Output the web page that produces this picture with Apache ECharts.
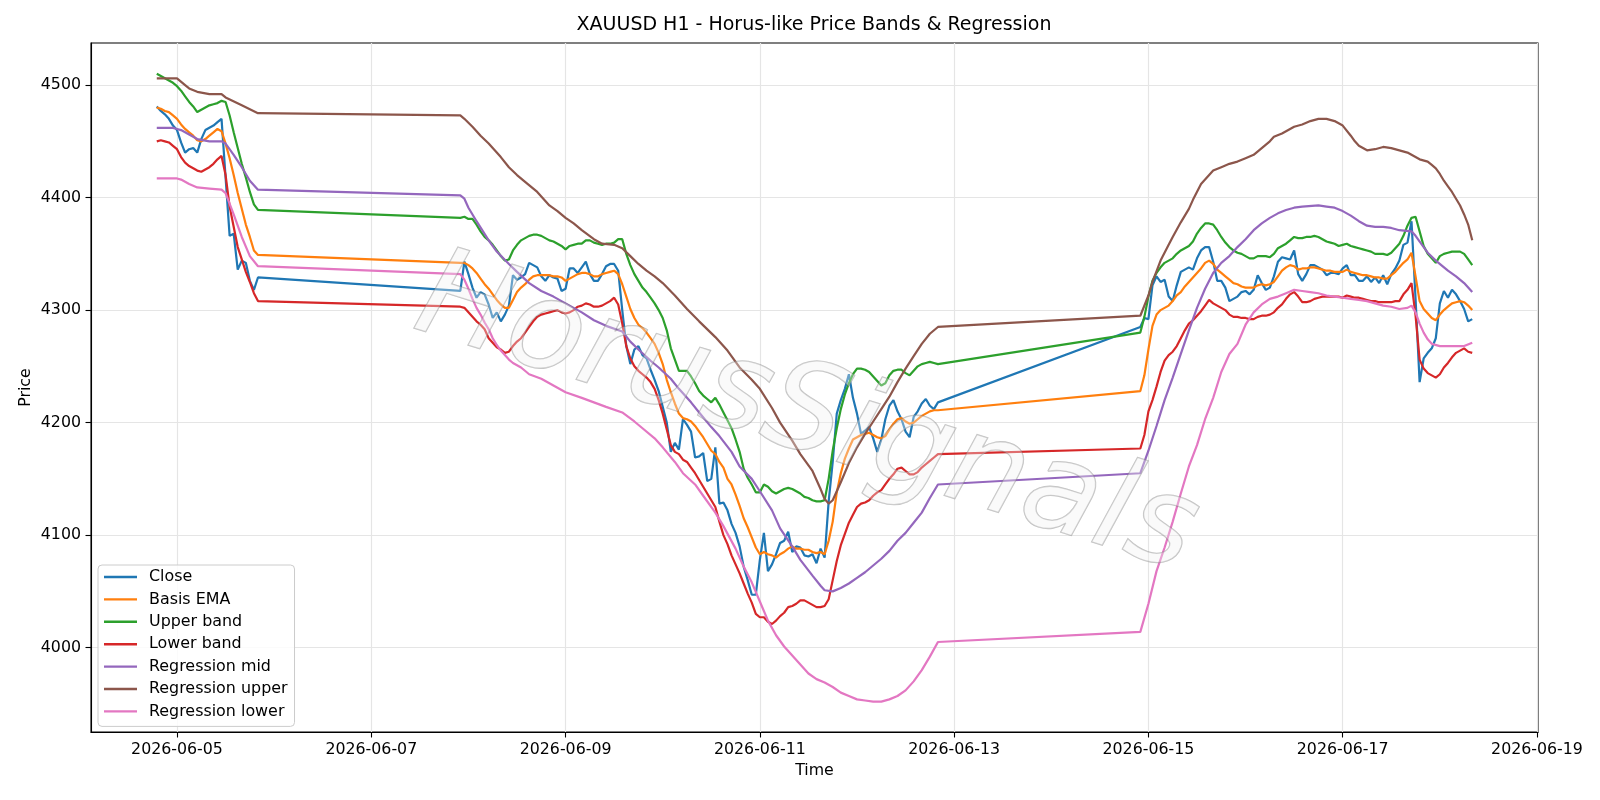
<!DOCTYPE html>
<html>
<head>
<meta charset="utf-8">
<title>XAUUSD H1 - Horus-like Price Bands &amp; Regression</title>
<script src="https://cdn.jsdelivr.net/npm/echarts@6.0.0/dist/echarts.min.js"></script>
<style>
  html, body { margin: 0; padding: 0; background: #ffffff; }
  #chart { width: 1600px; height: 800px; }
</style>
</head>
<body>
<div id="chart"></div>
<script>
// hourly bars, hour 0 = 2026-06-05 00:00; the three stretches are split by weekends
const segmentStart = [-5, 70, 238];

// Close
const closeA = [4481, 4477, 4474, 4470, 4464, 4460, 4449, 4440, 4443, 4444,
  4440, 4452, 4460, 4462, 4464, 4467, 4470, 4418, 4366, 4368,
  4336, 4344, 4342, 4326, 4318, 4329];
const closeB = [4317, 4343, 4332, 4320, 4311, 4316, 4314, 4305, 4293, 4298,
  4290, 4296, 4304, 4331, 4327, 4329, 4332, 4342, 4340, 4338,
  4330, 4326, 4331, 4329, 4328, 4317, 4319, 4337, 4337, 4333,
  4338, 4343, 4332, 4326, 4326, 4332, 4339, 4341, 4341, 4335,
  4300, 4268, 4252, 4265, 4268, 4260, 4257, 4247, 4238, 4228,
  4214, 4200, 4174, 4182, 4176, 4203, 4198, 4192, 4169, 4170,
  4173, 4148, 4150, 4178, 4128, 4129, 4122, 4110, 4102, 4090,
  4072, 4060, 4047, 4047, 4078, 4102, 4068, 4074, 4083, 4093,
  4095, 4103, 4085, 4090, 4089, 4082, 4081, 4083, 4075, 4088,
  4080, 4130, 4165, 4208, 4220, 4230, 4243, 4222, 4208, 4190,
  4193, 4196, 4186, 4174, 4185, 4203, 4215, 4220, 4210, 4203,
  4192, 4187, 4205, 4210, 4217, 4221, 4215, 4212, 4218];
const closeC = [4285, 4293, 4292, 4322, 4330, 4325, 4327, 4312, 4308, 4322,
  4334, 4336, 4338, 4336, 4346, 4353, 4356, 4356, 4343, 4326,
  4326, 4320, 4308, 4310, 4312, 4316, 4317, 4314, 4318, 4331,
  4324, 4318, 4320, 4330, 4343, 4347, 4346, 4345, 4353, 4332,
  4326, 4332, 4340, 4340, 4338, 4336, 4331, 4333, 4333, 4332,
  4337, 4340, 4331, 4331, 4326, 4326, 4330, 4325, 4329, 4324,
  4331, 4323, 4332, 4337, 4344, 4358, 4360, 4379, 4310, 4236,
  4257, 4262, 4266, 4275, 4306, 4317, 4311, 4318, 4314, 4308,
  4301, 4290, 4292];

// Basis EMA
const basisA = [4480, 4479, 4477, 4476, 4473, 4470, 4465, 4461, 4458, 4455,
  4451, 4450, 4452, 4455, 4458, 4461, 4459, 4448, 4435, 4420,
  4404, 4390, 4376, 4365, 4353, 4349];
const basisB = [4342, 4342, 4340, 4337, 4333, 4328, 4323, 4319, 4314, 4309,
  4305, 4302, 4302, 4309, 4316, 4320, 4323, 4327, 4330, 4331,
  4331, 4331, 4331, 4330, 4330, 4329, 4326, 4328, 4330, 4332,
  4333, 4333, 4332, 4330, 4330, 4332, 4333, 4334, 4335, 4332,
  4323, 4312, 4301, 4293, 4287, 4284, 4280, 4275, 4270, 4262,
  4252, 4238, 4227, 4217, 4208, 4204, 4203, 4201, 4197, 4192,
  4187, 4181, 4175, 4172, 4165, 4160, 4150, 4145, 4136, 4126,
  4115, 4107, 4098, 4089, 4083, 4085, 4083, 4082, 4080, 4083,
  4085, 4088, 4090, 4088, 4088, 4087, 4087, 4085, 4084, 4085,
  4083, 4095, 4112, 4138, 4155, 4168, 4177, 4185, 4187, 4189,
  4190, 4191, 4189, 4187, 4186, 4188, 4194, 4199, 4203, 4204,
  4201, 4199, 4200, 4203, 4206, 4208, 4210, 4211, 4211];
const basisC = [4228, 4242, 4265, 4286, 4296, 4300, 4302, 4304, 4308, 4313,
  4316, 4321, 4325, 4329, 4333, 4337, 4342, 4344, 4341, 4336,
  4333, 4330, 4327, 4324, 4323, 4321, 4320, 4320, 4320, 4322,
  4323, 4322, 4323, 4325, 4330, 4335, 4338, 4340, 4339, 4336,
  4337, 4337, 4338, 4338, 4337, 4336, 4335, 4335, 4334, 4334,
  4334, 4336, 4334, 4333, 4332, 4331, 4331, 4330, 4329, 4329,
  4328, 4328, 4331, 4334, 4338, 4342, 4345, 4351, 4330, 4308,
  4301, 4297, 4293, 4291, 4296, 4300, 4303, 4306, 4307, 4308,
  4307, 4304, 4300];

// Upper band
const upperA = [4510, 4508, 4506, 4504, 4502, 4499, 4495, 4490, 4485, 4481,
  4476, 4478, 4480, 4482, 4483, 4484, 4486, 4485, 4473, 4458,
  4444, 4430, 4418, 4405, 4394, 4389];
const upperB = [4382, 4383, 4381, 4381, 4376, 4370, 4365, 4362, 4358, 4353,
  4348, 4344, 4345, 4353, 4358, 4362, 4364, 4366, 4367, 4367,
  4366, 4364, 4362, 4361, 4359, 4357, 4354, 4357, 4358, 4359,
  4359, 4362, 4362, 4360, 4359, 4358, 4359, 4359, 4360, 4363,
  4363, 4350, 4340, 4332, 4326, 4320, 4316, 4311, 4306, 4300,
  4293, 4282, 4266, 4256, 4246, 4246, 4246, 4241, 4235, 4228,
  4224, 4221, 4218, 4222, 4216, 4209, 4202, 4195, 4185, 4174,
  4159, 4151, 4145, 4138, 4138, 4145, 4143, 4139, 4137, 4139,
  4141, 4142, 4141, 4139, 4137, 4134, 4133, 4131, 4130, 4130,
  4131, 4150, 4175, 4195, 4212, 4225, 4235, 4243, 4248, 4248,
  4247, 4245, 4241, 4237, 4233, 4235, 4242, 4246, 4247, 4247,
  4244, 4242, 4246, 4250, 4252, 4253, 4254, 4253, 4252];
const upperC = [4280, 4294, 4312, 4326, 4333, 4338, 4342, 4344, 4346, 4350,
  4353, 4355, 4357, 4361, 4368, 4373, 4377, 4377, 4376, 4371,
  4365, 4360, 4356, 4353, 4351, 4350, 4348, 4346, 4346, 4348,
  4348, 4348, 4347, 4350, 4355, 4357, 4359, 4362, 4365, 4364,
  4364, 4365, 4365, 4366, 4365, 4363, 4361, 4360, 4359, 4357,
  4358, 4359, 4357, 4356, 4355, 4354, 4353, 4352, 4350, 4350,
  4350, 4349, 4351, 4355, 4359, 4366, 4375, 4382, 4383, 4370,
  4357, 4350, 4346, 4342, 4348, 4350, 4351, 4352, 4352, 4352,
  4350, 4345, 4340];

// Lower band
const lowerA = [4450, 4451, 4450, 4449, 4446, 4443, 4436, 4431, 4428, 4426,
  4424, 4423, 4425, 4427, 4430, 4434, 4437, 4420, 4392, 4374,
  4356, 4345, 4334, 4325, 4315, 4308];
const lowerB = [4303, 4302, 4298, 4294, 4290, 4287, 4283, 4275, 4271, 4267,
  4265, 4262, 4263, 4268, 4272, 4275, 4280, 4285, 4290, 4294,
  4296, 4297, 4298, 4299, 4300, 4298, 4297, 4298, 4300, 4303,
  4304, 4306, 4305, 4303, 4303, 4304, 4306, 4308, 4311, 4305,
  4288, 4268, 4257, 4250, 4246, 4243, 4240, 4236, 4230, 4220,
  4208, 4194, 4180, 4174, 4172, 4167, 4165, 4160, 4155, 4149,
  4143, 4137, 4131, 4125, 4112, 4100, 4092, 4082, 4074, 4066,
  4057, 4048, 4040, 4030, 4027, 4027, 4023, 4021, 4024, 4028,
  4031, 4036, 4037, 4039, 4042, 4042, 4040, 4038, 4036, 4036,
  4037, 4043, 4060, 4077, 4091, 4101, 4111, 4118, 4125, 4128,
  4129, 4131, 4135, 4138, 4140, 4145, 4150, 4154, 4159, 4160,
  4157, 4154, 4154, 4156, 4160, 4163, 4166, 4169, 4172];
const lowerC = [4177, 4189, 4210, 4220, 4232, 4245, 4255, 4260, 4263, 4268,
  4275, 4282, 4288, 4291, 4295, 4299, 4304, 4309, 4306, 4304,
  4302, 4300, 4296, 4294, 4294, 4293, 4293, 4292, 4292, 4294,
  4295, 4295, 4296, 4298, 4302, 4305, 4310, 4314, 4316, 4312,
  4307, 4307, 4308, 4310, 4311, 4312, 4312, 4312, 4312, 4312,
  4311, 4313, 4312, 4311, 4311, 4310, 4309, 4308, 4308, 4307,
  4307, 4307, 4307, 4308, 4308, 4314, 4318, 4324, 4295, 4256,
  4248, 4244, 4242, 4240, 4243, 4249, 4253, 4258, 4262, 4264,
  4266, 4263, 4262];

// regression channel, read as [hour, price] where the line bends
const regMid = [[-5, 4462], [-1, 4462], [0, 4461], [1, 4460], [3, 4456], [5, 4452], [8, 4450],
  [11, 4450], [12, 4448], [14, 4438], [16, 4427], [18, 4415], [20, 4407],
  [70, 4402], [71, 4399], [72, 4391], [74, 4379], [77, 4362], [79, 4352], [82, 4341], [84, 4334],
  [87, 4324], [90, 4317], [93, 4312], [96, 4306], [100, 4298], [103, 4291], [106, 4286], [110, 4281],
  [112, 4272], [114, 4265], [117, 4255], [119, 4249], [122, 4239], [124, 4230], [127, 4218],
  [129, 4209], [132, 4196], [134, 4188], [137, 4174], [139, 4161], [142, 4150], [144, 4139],
  [147, 4122], [149, 4106], [152, 4090], [154, 4078], [157, 4064], [159, 4055], [160, 4051],
  [162, 4050], [164, 4053], [166, 4057], [168, 4062], [170, 4067], [172, 4073], [174, 4079],
  [176, 4086], [178, 4095], [180, 4102], [182, 4111], [184, 4120], [186, 4133], [188, 4145],
  [238, 4155], [240, 4175], [242, 4197], [244, 4220], [246, 4240], [248, 4261], [250, 4282],
  [252, 4302], [254, 4319], [256, 4333], [258, 4342], [260, 4348], [262, 4356], [264, 4363],
  [266, 4371], [268, 4377], [270, 4382], [272, 4386], [274, 4389], [276, 4391], [278, 4392],
  [282, 4393], [284, 4392], [286, 4391], [288, 4388], [290, 4384], [292, 4379], [294, 4375],
  [296, 4374], [298, 4374], [300, 4373], [302, 4371], [305, 4370], [306, 4366], [308, 4356],
  [309, 4351], [311, 4344], [314, 4335], [316, 4330], [318, 4324], [320, 4316]];
const regUpper = [[-5, 4506], [0, 4506], [2, 4500], [3, 4497], [5, 4494], [8, 4492], [11, 4492],
  [12, 4489], [16, 4482], [20, 4475],
  [70, 4473], [71, 4470], [73, 4463], [75, 4455], [77, 4448], [80, 4436], [82, 4427], [84, 4420],
  [86, 4414], [89, 4405], [92, 4393], [94, 4388], [96, 4382], [98, 4377], [100, 4371], [103, 4363],
  [105, 4359], [108, 4358], [110, 4355], [112, 4348], [114, 4341], [116, 4335], [118, 4330],
  [120, 4324], [123, 4313], [126, 4301], [129, 4290], [133, 4276], [136, 4264], [139, 4249],
  [142, 4238], [144, 4230], [147, 4213], [149, 4200], [152, 4184], [154, 4172], [157, 4157],
  [159, 4141], [160, 4132], [161, 4128], [162, 4131], [164, 4147], [166, 4164], [168, 4178],
  [170, 4190], [172, 4201], [174, 4212], [176, 4223], [178, 4236], [180, 4248], [182, 4259],
  [184, 4270], [186, 4279], [188, 4285],
  [238, 4295], [240, 4313], [241, 4325], [243, 4344], [245, 4358], [246, 4365], [248, 4378],
  [250, 4390], [251, 4398], [253, 4412], [255, 4420], [256, 4424], [258, 4427], [260, 4430],
  [262, 4432], [264, 4435], [266, 4438], [268, 4444], [270, 4450], [271, 4454], [273, 4457],
  [274, 4459], [276, 4463], [278, 4465], [280, 4468], [282, 4470], [284, 4470], [286, 4468],
  [288, 4464], [290, 4455], [291, 4450], [292, 4446], [294, 4442], [296, 4443], [298, 4445],
  [300, 4444], [302, 4442], [304, 4440], [306, 4436], [307, 4434], [309, 4432], [310, 4429],
  [311, 4426], [312, 4421], [313, 4415], [314, 4410], [315, 4405], [316, 4399], [317, 4393],
  [318, 4385], [319, 4376], [320, 4362]];
const regLower = [[-5, 4417], [0, 4417], [1, 4416], [3, 4412], [5, 4409], [8, 4408], [11, 4407],
  [12, 4404], [14, 4385], [16, 4365], [18, 4348], [20, 4339],
  [70, 4332], [71, 4327], [72, 4319], [73, 4310], [74, 4302], [75, 4296], [76, 4289], [77, 4283],
  [78, 4275], [79, 4269], [80, 4264], [81, 4260], [82, 4256], [83, 4253], [85, 4249], [87, 4243],
  [90, 4239], [93, 4233], [96, 4227], [100, 4222], [103, 4218], [106, 4214], [110, 4209],
  [113, 4201], [115, 4195], [118, 4186], [120, 4178], [123, 4165], [125, 4155], [128, 4145],
  [130, 4135], [133, 4120], [135, 4108], [138, 4088], [140, 4072], [142, 4058], [144, 4041],
  [146, 4024], [148, 4011], [150, 4001], [152, 3993], [154, 3985], [156, 3977], [158, 3972],
  [160, 3969], [162, 3965], [164, 3960], [166, 3957], [168, 3954], [170, 3953], [172, 3952],
  [174, 3952], [176, 3954], [178, 3957], [180, 3962], [182, 3970], [184, 3980], [186, 3992],
  [188, 4005],
  [238, 4014], [240, 4039], [242, 4068], [244, 4089], [246, 4112], [248, 4137], [250, 4161],
  [252, 4180], [254, 4203], [256, 4222], [258, 4245], [260, 4261], [262, 4270], [264, 4287],
  [266, 4298], [268, 4305], [270, 4310], [272, 4312], [274, 4315], [276, 4318], [278, 4317],
  [280, 4316], [282, 4315], [284, 4313], [286, 4312], [288, 4311], [290, 4310], [292, 4309],
  [294, 4308], [296, 4306], [298, 4304], [300, 4303], [302, 4301], [304, 4302], [305, 4304],
  [306, 4298], [307, 4288], [308, 4280], [309, 4274], [310, 4270], [312, 4268], [318, 4268],
  [320, 4271]];

const seriesNames = ['Close', 'Basis EMA', 'Upper band', 'Lower band',
  'Regression mid', 'Regression upper', 'Regression lower'];
const seriesColors = ['#1f77b4', '#ff7f0e', '#2ca02c', '#d62728', '#9467bd', '#8c564b', '#e377c2'];
const dayTicks = [0, 2, 4, 6, 8, 10, 12, 14];        // days after 2026-06-05
const priceTicks = [4000, 4100, 4200, 4300, 4400, 4500];

// x is kept in days so that ticks every 2 days are "nice" numbers
function hourly(parts) {
  const out = [];
  parts.forEach(function (vals, s) {
    vals.forEach(function (v, i) {
      out.push([(segmentStart[s] + i) / 24, v]);
    });
  });
  return out;
}
function fromPairs(list) {
  return list.map(function (p) { return [p[0] / 24, p[1]]; });
}
function dayLabel(d) {
  const t = new Date(Date.UTC(2026, 5, 5) + Math.round(d) * 86400000);
  return t.toISOString().slice(0, 10);
}

const seriesData = [
  hourly([closeA, closeB, closeC]),
  hourly([basisA, basisB, basisC]),
  hourly([upperA, upperB, upperC]),
  hourly([lowerA, lowerB, lowerC]),
  fromPairs(regMid),
  fromPairs(regUpper),
  fromPairs(regLower)
];

const font = 'DejaVu Sans';
const chart = echarts.init(document.getElementById('chart'), null, { renderer: 'canvas' });

chart.setOption({
  animation: false,
  backgroundColor: '#ffffff',
  textStyle: { fontFamily: font },
  title: {
    text: 'XAUUSD H1 - Horus-like Price Bands & Regression',
    left: 809,
    top: 11,
    textAlign: 'center',
    textStyle: { fontFamily: font, fontSize: 19, fontWeight: 'normal', color: '#000' }
  },
  grid: {
    left: 91, right: 62, top: 43, bottom: 68,
    containLabel: false,
    outerBoundsMode: 'none',
    show: true,
    borderColor: '#000',
    borderWidth: 1.1,
    backgroundColor: 'transparent'
  },
  legend: {
    orient: 'vertical',
    left: 98,
    top: 565,
    padding: [4, 7, 7, 6],
    itemWidth: 33,
    itemHeight: 2.4,
    itemGap: 6.4,
    icon: 'rect',
    selectedMode: false,
    backgroundColor: 'rgba(255,255,255,0.85)',
    borderColor: '#cccccc',
    borderWidth: 1,
    borderRadius: 4,
    textStyle: { fontFamily: font, fontSize: 15.9, color: '#000', lineHeight: 16, padding: [0, 0, 0, 7] },
    data: seriesNames
  },
  xAxis: {
    type: 'value',
    min: -21.25 / 24,
    max: 336.25 / 24,
    splitNumber: 7,
    minInterval: 2,
    maxInterval: 2,
    name: 'Time',
    nameLocation: 'middle',
    nameGap: 31,
    nameMoveOverlap: false,
    nameTextStyle: { fontFamily: font, fontSize: 15.8, color: '#000' },
    axisLine: { show: true, onZero: false, lineStyle: { color: '#000', width: 1.1 } },
    axisTick: { show: true, inside: false, length: 5.5, customValues: dayTicks, lineStyle: { color: '#000', width: 1.1 } },
    axisLabel: { customValues: dayTicks, formatter: dayLabel, color: '#000', fontFamily: font, fontSize: 15.8, margin: 10 },
    splitLine: { show: true, lineStyle: { color: '#e5e5e5', width: 1.2 } }
  },
  yAxis: {
    type: 'value',
    min: 3925,
    max: 4537.4,
    minInterval: 100,
    maxInterval: 100,
    name: 'Price',
    nameLocation: 'middle',
    nameGap: 57,
    nameMoveOverlap: false,
    nameTextStyle: { fontFamily: font, fontSize: 15.8, color: '#000' },
    axisLine: { show: true, onZero: false, lineStyle: { color: '#000', width: 1.1 } },
    axisTick: { show: true, inside: false, length: 5.5, customValues: priceTicks, lineStyle: { color: '#000', width: 1.1 } },
    axisLabel: {
      customValues: priceTicks,
      formatter: function (v) { return String(v); },
      color: '#000', fontFamily: font, fontSize: 15.8, margin: 10
    },
    splitLine: { show: true, lineStyle: { color: '#e5e5e5', width: 1.2 } }
  },
  // watermark across the plot
  graphic: [{
    type: 'text',
    x: 806,
    y: 418,
    rotation: -17.5 * Math.PI / 180,
    z: 50,
    silent: true,
    style: {
      text: 'HorusSignals',
      font: 'italic 124px "DejaVu Sans"',
      textAlign: 'center',
      textVerticalAlign: 'middle',
      align: 'center',
      verticalAlign: 'middle',
      fill: 'rgba(240,240,240,0.35)',
      stroke: 'rgba(120,120,120,0.45)',
      lineWidth: 1.3,
      shadowColor: 'rgba(0,0,0,0.18)',
      shadowOffsetX: 3,
      shadowOffsetY: 3,
      shadowBlur: 3
    }
  }],
  series: seriesNames.map(function (name, i) {
    return {
      name: name,
      type: 'line',
      data: seriesData[i],
      symbol: 'none',
      showSymbol: false,
      clip: true,
      color: seriesColors[i],
      itemStyle: { color: seriesColors[i] },
      lineStyle: { color: seriesColors[i], width: 2.2 },
      emphasis: { disabled: true }
    };
  })
});
</script>
</body>
</html>
